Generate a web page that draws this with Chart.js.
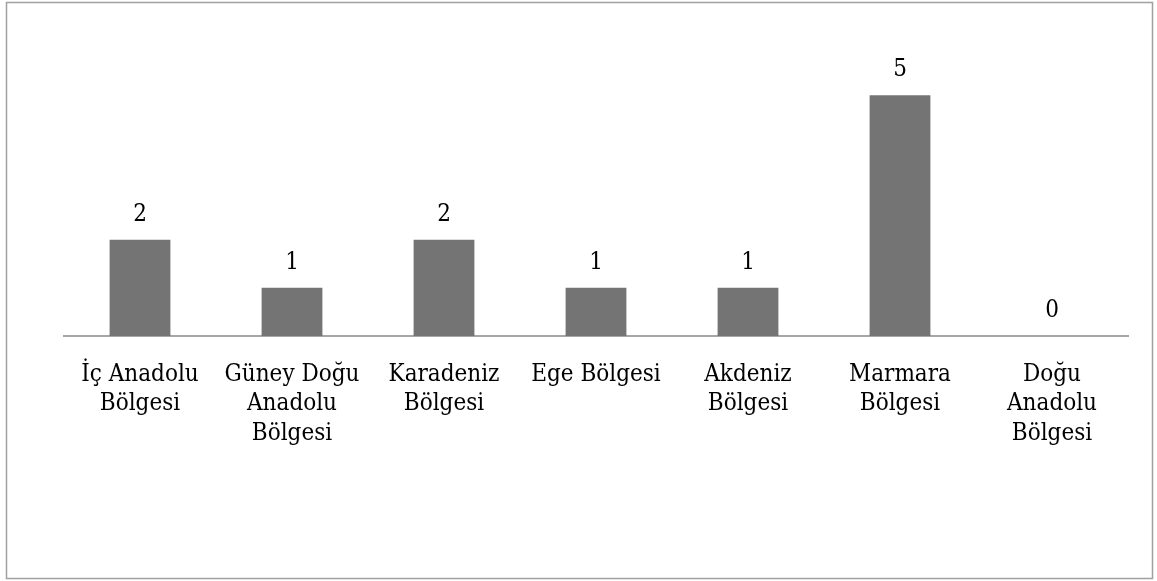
<!DOCTYPE html>
<html>
<head>
<meta charset="utf-8">
<script src="https://cdn.jsdelivr.net/npm/chart.js@4.4.0/dist/chart.umd.min.js"></script>
<style>
  html, body { margin: 0; padding: 0; background: #fff; }
  #wrap { width: 1157px; height: 581px; }
</style>
</head>
<body>
<div id="wrap"><canvas id="myChart" width="1157" height="581"></canvas></div>
<script>
// regions, wrapped the way they appear under the axis
const regions = [
  ['İç Anadolu', 'Bölgesi'],
  ['Güney Doğu', 'Anadolu', 'Bölgesi'],
  ['Karadeniz', 'Bölgesi'],
  ['Ege Bölgesi'],
  ['Akdeniz', 'Bölgesi'],
  ['Marmara', 'Bölgesi'],
  ['Doğu', 'Anadolu', 'Bölgesi']
];
const counts = [2, 1, 2, 1, 1, 5, 0];

const fontFamily = '"DejaVu Serif Condensed", "DejaVu Serif", serif';

// frame around the whole chart
const framePlugin = {
  id: 'frame',
  beforeDraw(chart) {
    const ctx = chart.ctx;
    ctx.save();
    ctx.strokeStyle = '#a0a0a0';
    ctx.lineWidth = 1.5;
    ctx.strokeRect(6.5, 2.5, 1146, 576);
    ctx.restore();
  }
};

// value above each bar
const valueLabels = {
  id: 'valueLabels',
  afterDatasetsDraw(chart) {
    const ctx = chart.ctx;
    const meta = chart.getDatasetMeta(0);
    ctx.save();
    ctx.font = '24px ' + fontFamily;
    ctx.fillStyle = '#000';
    ctx.textAlign = 'center';
    ctx.textBaseline = 'alphabetic';
    meta.data.forEach((bar, i) => {
      ctx.fillText(String(counts[i]), bar.x, bar.y - 19);
    });
    ctx.restore();
  }
};

const chartArea = document.getElementById('myChart');
const chart = new Chart(chartArea, {
  type: 'bar',
  data: {
    labels: regions,
    datasets: [{
      data: counts,
      backgroundColor: '#747474',
      borderWidth: 0,
      categoryPercentage: 1,
      barPercentage: 0.4
    }]
  },
  options: {
    responsive: false,
    animation: false,
    layout: { padding: { left: 64, right: 29, top: 47, bottom: 0 } },
    plugins: {
      legend: { display: false },
      tooltip: { enabled: false }
    },
    scales: {
      x: {
        grid: { display: false, drawTicks: false },
        border: { display: true, color: '#a6a6a6', width: 2 },
        ticks: {
          color: '#000',
          padding: 24,
          maxRotation: 0,
          autoSkip: false,
          font: { family: fontFamily, size: 24, lineHeight: 29.5 / 24 }
        },
        afterFit(scale) { scale.height = 245; }
      },
      y: {
        display: false,
        min: 0,
        max: 6
      }
    }
  },
  plugins: [framePlugin, valueLabels]
});
</script>
</body>
</html>
